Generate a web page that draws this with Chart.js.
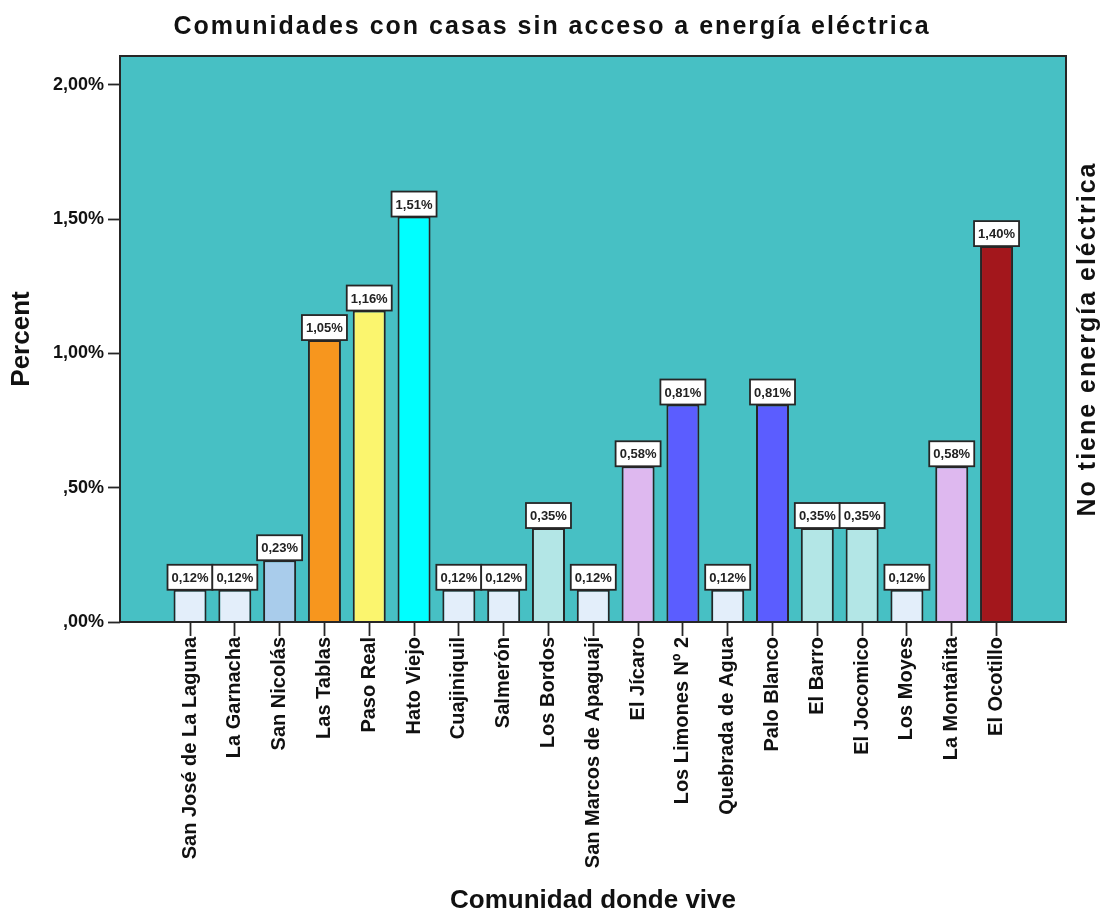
<!DOCTYPE html>
<html lang="es">
<head>
<meta charset="utf-8">
<title>Comunidades con casas sin acceso a energía eléctrica</title>
<script src="https://cdn.jsdelivr.net/npm/chart.js@4.4.1/dist/chart.umd.min.js"></script>
<style>
  html, body { margin: 0; padding: 0; background: #fff; }
  #grafico { display: block; }
</style>
</head>
<body>
<canvas id="grafico" width="1104" height="914"></canvas>
<script>
// comunidades y porcentaje de casas sin energía eléctrica
const comunidades = [
  'San José de La Laguna', 'La Garnacha', 'San Nicolás', 'Las Tablas', 'Paso Real',
  'Hato Viejo', 'Cuajiniquil', 'Salmerón', 'Los Bordos', 'San Marcos de Apaguají',
  'El Jícaro', 'Los Limones Nº 2', 'Quebrada de Agua', 'Palo Blanco', 'El Barro',
  'El Jocomico', 'Los Moyes', 'La Montañita', 'El Ocotillo'
];
const porcentajes = [
  0.12, 0.12, 0.23, 1.05, 1.16,
  1.51, 0.12, 0.12, 0.35, 0.12,
  0.58, 0.81, 0.12, 0.81, 0.35,
  0.35, 0.12, 0.58, 1.40
];
const yTicks = [0, 0.5, 1, 1.5, 2];
const yTickLabels = [',00%', ',50%', '1,00%', '1,50%', '2,00%'];

const colores = [
  '#E3EEFA', '#E3EEFA', '#A9CCEB', '#F7961E', '#FBF56E',
  '#00FFFF', '#E3EEFA', '#E3EEFA', '#B3E6E6', '#E3EEFA',
  '#DEB8EF', '#5B5DFF', '#E3EEFA', '#5B5DFF', '#B3E6E6',
  '#B3E6E6', '#E3EEFA', '#DEB8EF', '#A3171C'
];

const FUENTE = '"Liberation Sans", Arial, Helvetica, sans-serif';
const TEAL = '#47C0C4';
const LINEA = '#262626';

const fmt = v => v.toFixed(2).replace('.', ',') + '%';

// fondo del área de trazado
const fondo = {
  id: 'fondo',
  beforeDraw(chart) {
    const { ctx, chartArea: a } = chart;
    ctx.save();
    ctx.fillStyle = TEAL;
    ctx.fillRect(a.left, a.top, a.right - a.left, a.bottom - a.top);
    ctx.restore();
  }
};

// marco y etiquetas de valor sobre cada barra
const etiquetas = {
  id: 'etiquetas',
  afterDatasetsDraw(chart) {
    const { ctx, chartArea: a } = chart;
    ctx.save();
    ctx.strokeStyle = LINEA;
    ctx.lineWidth = 2;
    ctx.strokeRect(a.left, a.top, a.right - a.left, a.bottom - a.top);

    const meta = chart.getDatasetMeta(0);
    ctx.font = 'bold 13px ' + FUENTE;
    ctx.textAlign = 'center';
    ctx.textBaseline = 'middle';
    meta.data.forEach((bar, i) => {
      const w = 45, h = 25;
      const x = bar.x - w / 2, y = bar.y - h;
      ctx.fillStyle = '#fff';
      ctx.fillRect(x, y, w, h);
      ctx.strokeStyle = LINEA;
      ctx.lineWidth = 1.8;
      ctx.strokeRect(x, y, w, h);
      ctx.fillStyle = '#222';
      ctx.fillText(fmt(porcentajes[i]), bar.x, y + h / 2 + 1);
    });
    ctx.restore();
  }
};

// título principal y rótulo del panel a la derecha
const titulos = {
  id: 'titulos',
  afterDraw(chart) {
    const { ctx, chartArea: a } = chart;
    ctx.save();
    ctx.fillStyle = '#111';
    ctx.font = 'bold 25px ' + FUENTE;
    ctx.letterSpacing = '2px';
    ctx.textAlign = 'center';
    ctx.textBaseline = 'middle';
    ctx.fillText('Comunidades con casas sin acceso a energía eléctrica', chart.width / 2, 27);

    ctx.translate(a.right + 22, (a.top + a.bottom) / 2);
    ctx.rotate(-Math.PI / 2);
    ctx.fillText('No tiene energía eléctrica', 0, 0);
    ctx.restore();
  }
};

new Chart(document.getElementById('grafico'), {
  type: 'bar',
  data: {
    datasets: [{
      data: porcentajes.map((v, i) => ({ x: i, y: v })),
      backgroundColor: colores,
      borderColor: LINEA,
      borderWidth: 2,
      barPercentage: 0.737,
      categoryPercentage: 1
    }]
  },
  options: {
    responsive: false,
    animation: false,
    devicePixelRatio: 1,
    layout: { padding: { top: 56, right: 38, left: 0, bottom: 0 } },
    plugins: {
      legend: { display: false },
      tooltip: { enabled: false }
    },
    scales: {
      x: {
        type: 'linear',
        min: -1.5625,
        max: 19.55,
        offset: false,
        afterBuildTicks: s => { s.ticks = comunidades.map((_, i) => ({ value: i })); },
        afterFit: s => { s.height = 292; },
        ticks: {
          autoSkip: false,
          minRotation: 90,
          maxRotation: 90,
          padding: 1,
          color: '#111',
          font: { family: FUENTE, size: 20, weight: 'bold' },
          callback: (v, i) => comunidades[i]
        },
        grid: {
          offset: false,
          drawOnChartArea: false,
          tickLength: 14,
          tickColor: LINEA,
          tickWidth: 1.8
        },
        border: { display: false },
        title: {
          display: true,
          text: 'Comunidad donde vive',
          color: '#111',
          font: { family: FUENTE, size: 26, weight: 'bold', lineHeight: 1 },
          padding: { top: 0, bottom: 0 }
        }
      },
      y: {
        min: 0,
        max: 2.108,
        afterBuildTicks: s => { s.ticks = yTicks.map(v => ({ value: v })); },
        afterFit: s => { s.width = 120; },
        ticks: {
          padding: 4,
          color: '#111',
          font: { family: FUENTE, size: 18, weight: 'bold' },
          callback: (v, i) => yTickLabels[i]
        },
        grid: {
          drawOnChartArea: false,
          tickLength: 12,
          tickColor: LINEA,
          tickWidth: 1.8
        },
        border: { display: false },
        title: {
          display: true,
          text: 'Percent',
          color: '#111',
          font: { family: FUENTE, size: 26, weight: 'bold', lineHeight: 1 },
          padding: { top: 9, bottom: 0 }
        }
      }
    }
  },
  plugins: [fondo, etiquetas, titulos]
});
</script>
</body>
</html>
